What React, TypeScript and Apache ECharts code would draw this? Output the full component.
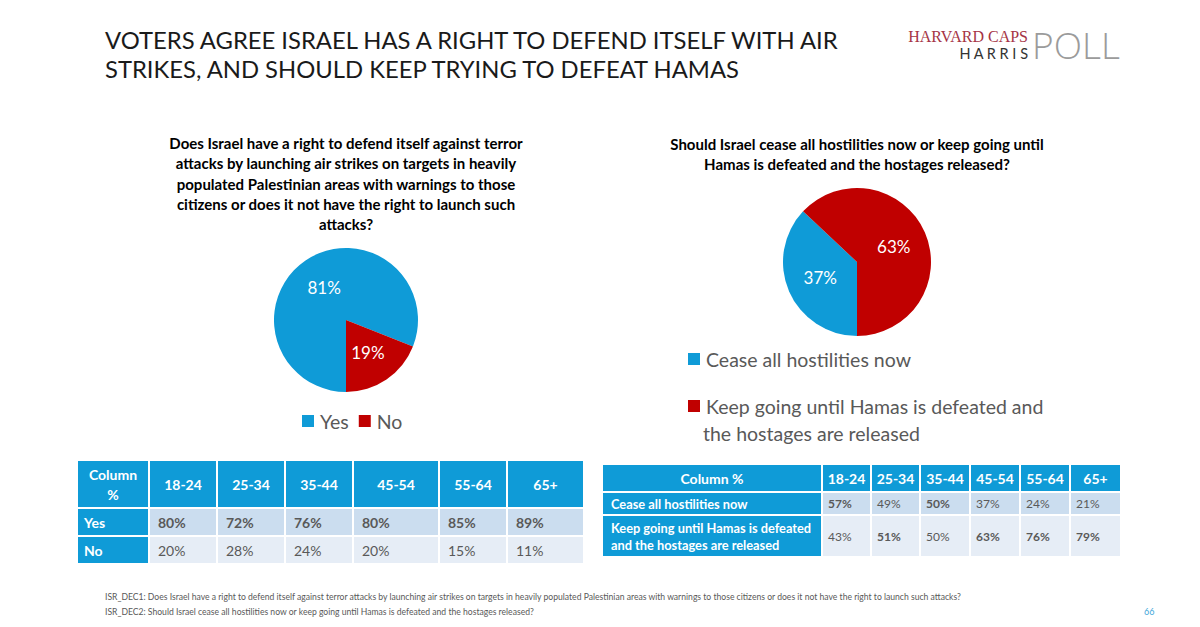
import React, { useEffect, useRef } from "react";
import * as echarts from "echarts";

const titleLines = [
  "VOTERS AGREE ISRAEL HAS A RIGHT TO DEFEND ITSELF WITH AIR",
  "STRIKES, AND SHOULD KEEP TRYING TO DEFEAT HAMAS",
];
const q1Lines = [
  "Does Israel have a right to defend itself against terror",
  "attacks by launching air strikes on targets in heavily",
  "populated Palestinian areas with warnings to those",
  "citizens or does it not have the right to launch such",
  "attacks?",
];
const q2Lines = [
  "Should Israel cease all hostilities now or keep going until",
  "Hamas is defeated and the hostages released?",
];
const q1Names = ["Yes", "No"];
const q1Values = [81, 19];
const q2Names = [
  "Cease all hostilities now",
  "Keep going until Hamas is defeated and the hostages are released",
];
const q2Values = [37, 63];
const q2LegendFirst = "Keep going until Hamas is defeated and";
const q2LegendSecond = "the hostages are released";

const ageGroups = ["18-24", "25-34", "35-44", "45-54", "55-64", "65+"];
const t1Yes = [80, 72, 76, 80, 85, 89];
const t1No = [20, 28, 24, 20, 15, 11];
const t2Cease = [57, 49, 50, 37, 24, 21];
const t2CeaseBold = [true, false, true, false, false, false];
const t2Keep = [43, 51, 50, 63, 76, 79];
const t2KeepBold = [false, true, false, true, true, true];
const footnotes = [
  "ISR_DEC1: Does Israel have a right to defend itself against terror attacks by launching air strikes on targets in heavily populated Palestinian areas with warnings to those citizens or does it not have the right to launch such attacks?",
  "ISR_DEC2: Should Israel cease all hostilities now or keep going until Hamas is defeated and the hostages released?",
];
const pageNumber = "66";

const BLUE = "#0F9BD7";
const RED = "#C00000";
const ROW1 = "#CBDDEF";
const ROW2 = "#E6EDF6";
const GREY = "#595959";
const FONT = "Lato, 'Open Sans', sans-serif";

function cellText(text: string, x: number, y: number, opts: any = {}) {
  return {
    type: "text",
    style: {
      text,
      x,
      y,
      fill: opts.fill || GREY,
      fontSize: opts.fontSize || 13,
      fontWeight: opts.bold ? "bold" : "normal",
      fontFamily: opts.fontFamily || FONT,
      align: opts.align || "left",
      verticalAlign: "middle",
      lineHeight: opts.lineHeight || 16,
    },
  };
}

function buildTable(
  cols: number[],
  rows: number[][],
  header: string,
  rowLabels: string[],
  values: number[][],
  bold: boolean[][],
  fs: { head: number; label: number; val: number; pad: number; labelPad: number }
) {
  const els: any[] = [];
  const gap = 2;
  for (let r = 0; r < rows.length; r++) {
    const [y0, y1] = rows[r];
    for (let c = 0; c < cols.length - 1; c++) {
      const x0 = cols[c];
      const x1 = cols[c + 1];
      const fill = r === 0 || c === 0 ? BLUE : r === 1 ? ROW1 : ROW2;
      els.push({
        type: "rect",
        shape: { x: x0, y: y0, width: x1 - x0 - gap, height: y1 - y0 },
        style: { fill },
      });
      const cx = (x0 + x1 - gap) / 2;
      const cy = (y0 + y1) / 2;
      if (r === 0) {
        const t = c === 0 ? header : ageGroups[c - 1];
        els.push(cellText(t, cx, cy, { fill: "#fff", bold: true, fontSize: fs.head, align: "center", lineHeight: 20 }));
      } else if (c === 0) {
        els.push(cellText(rowLabels[r - 1], x0 + fs.labelPad, cy, { fill: "#fff", bold: true, fontSize: fs.label, lineHeight: 17 }));
      } else {
        els.push(
          cellText(values[r - 1][c - 1] + "%", x0 + fs.pad, cy, {
            fill: GREY,
            bold: bold[r - 1][c - 1],
            fontSize: fs.val,
          })
        );
      }
    }
  }
  return els;
}

export default function App() {
  const ref = useRef<HTMLDivElement>(null);
  useEffect(() => {
    if (!ref.current) return;
    const chart = echarts.init(ref.current, null, { renderer: "svg" });
    const graphics: any[] = [];
    titleLines.forEach((t, i) =>
      graphics.push({
        type: "text",
        style: { text: t, x: 105, y: 40 + i * 29, fill: "#1A1A1A", fontSize: 23.8, fontFamily: FONT, verticalAlign: "middle" },
      })
    );
    q1Lines.forEach((t, i) =>
      graphics.push(cellText(t, 346, 143 + i * 20.3, { fill: "#000", bold: true, fontSize: 15, align: "center" }))
    );
    q2Lines.forEach((t, i) =>
      graphics.push(cellText(t, 857, 144 + i * 20.3, { fill: "#000", bold: true, fontSize: 15, align: "center" }))
    );
    // logo
    graphics.push({
      type: "text",
      style: { text: "HARVARD CAPS", x: 1028, y: 36, fill: "#A53445", fontSize: 16, fontFamily: "'Liberation Serif', serif", align: "right", verticalAlign: "middle" },
    });
    graphics.push({
      type: "text",
      style: { text: "H A R R I S", x: 1028, y: 53, fill: "#333", fontSize: 14.5, fontFamily: FONT, align: "right", verticalAlign: "middle" },
    });
    graphics.push({
      type: "text",
      style: { text: "POLL", x: 1032, y: 44, fill: "#9B9B9B", fontSize: 37, fontWeight: 300, fontFamily: "'Open Sans', sans-serif", align: "left", verticalAlign: "middle" },
    });
    // tables
    graphics.push(
      ...buildTable(
        [78, 150, 218, 286, 354, 440, 508, 585],
        [[461, 507], [509, 535], [537, 563]],
        "Column\n%",
        ["Yes", "No"],
        [t1Yes, t1No],
        [t1Yes.map(() => true), t1No.map(() => false)],
        { head: 14, label: 14, val: 14, pad: 8, labelPad: 6 }
      )
    );
    graphics.push(
      ...buildTable(
        [603, 823, 872, 921, 971, 1021, 1071, 1122],
        [[465, 491], [493, 514], [516, 556]],
        "Column %",
        ["Cease all hostilities now", "Keep going until Hamas is defeated\nand the hostages are released"],
        [t2Cease, t2Keep],
        [t2CeaseBold, t2KeepBold],
        { head: 14, label: 12.8, val: 12, pad: 5, labelPad: 8 }
      )
    );
    footnotes.forEach((t, i) =>
      graphics.push(cellText(t, 105, 597 + i * 14.5, { fill: GREY, fontSize: 8.6, lineHeight: 10 }))
    );
    graphics.push(cellText(pageNumber, 1144, 611, { fill: "#3FA7DA", fontSize: 9 }));
    graphics.push(cellText(q2LegendSecond, 703, 433, { fill: GREY, fontSize: 19.5, lineHeight: 24 }));

    chart.setOption({
      animation: false,
      backgroundColor: "#fff",
      color: [BLUE, RED],
      legend: [
        {
          data: q1Names,
          left: 297,
          top: 404,
          itemWidth: 12,
          itemHeight: 12,
          itemGap: 10,
          icon: "rect",
          textStyle: { color: GREY, fontSize: 19.5, fontFamily: FONT, lineHeight: 24, padding: [0, 0, 0, 1] },
        },
        {
          data: q2Names,
          orient: "vertical",
          left: 683,
          top: 342,
          itemWidth: 12,
          itemHeight: 12,
          itemGap: 23,
          icon: "rect",
          formatter: (n: string) => (n.startsWith("Keep") ? q2LegendFirst : n),
          textStyle: { color: GREY, fontSize: 19.5, fontFamily: FONT, lineHeight: 24, padding: [0, 0, 0, 1] },
        },
      ],
      series: [
        {
          type: "pie",
          center: [346, 320],
          radius: 72,
          startAngle: -90,
          clockwise: true,
          label: { position: "inside", formatter: "{c}%", color: "#fff", fontSize: 17, fontFamily: FONT },
          labelLine: { show: false },
          emphasis: { disabled: true },
          data: q1Names.map((n, i) => ({ name: n, value: q1Values[i] })),
        },
        {
          type: "pie",
          center: [857, 262],
          radius: 74,
          startAngle: -90,
          clockwise: true,
          label: { position: "inside", formatter: "{c}%", color: "#fff", fontSize: 17, fontFamily: FONT },
          labelLine: { show: false },
          emphasis: { disabled: true },
          data: q2Names.map((n, i) => ({ name: n, value: q2Values[i] })),
        },
      ],
      graphic: graphics,
    });
    return () => chart.dispose();
  }, []);
  return <div ref={ref} style={{ position: "absolute", left: 0, top: 0, width: 1200, height: 627 }} />;
}
